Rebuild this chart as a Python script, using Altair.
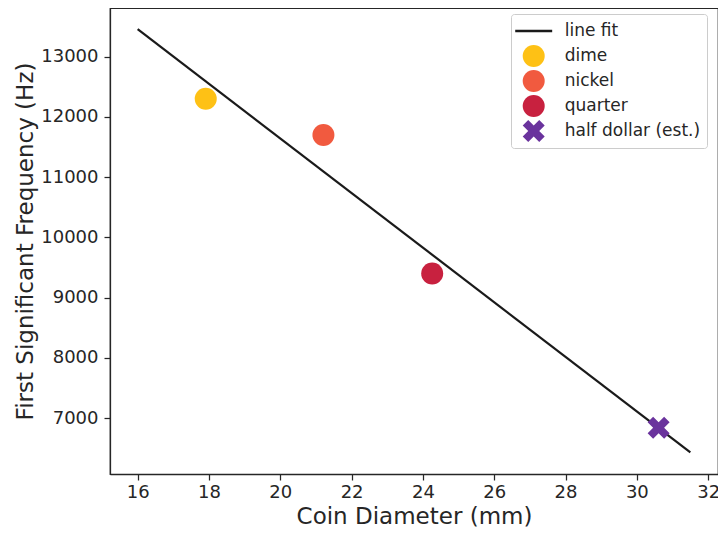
import altair as alt
import pandas as pd

# ---- data ----
legend_labels = ["line fit", "dime", "nickel", "quarter", "half dollar (est.)"]
legend_colors = ["#1a1a1a", "#fec115", "#f15a3f", "#c8213f", "#6a339d"]

coin_names = ["dime", "nickel", "quarter", "half dollar (est.)"]
coin_diameter = [17.91, 21.21, 24.26, 30.61]
coin_freq = [12300, 11700, 9400, 6840]

fit_x = [16.0, 31.5]
fit_y = [13456, 6430]

x_ticks = [16, 18, 20, 22, 24, 26, 28, 30, 32]
y_ticks = [7000, 8000, 9000, 10000, 11000, 12000, 13000]

# ---- styles ----
X_PATH = "M-1,-0.5L-0.5,-1L0,-0.5L0.5,-1L1,-0.5L0.5,0L1,0.5L0.5,1L0,0.5L-0.5,1L-1,0.5L-0.5,0Z"
LINE_PATH = "M0,-1M0,1M-1.68,-0.11L1.68,-0.11L1.68,0.11L-1.68,0.11Z"
legend_shapes = [LINE_PATH, "circle", "circle", "circle", X_PATH]

FONT = "DejaVu Sans"
DARK = "#262626"
W, H = 608, 466

coins = pd.DataFrame({"coin": coin_names, "diameter": coin_diameter, "freq": coin_freq})
fit = pd.DataFrame({"diameter": fit_x, "freq": fit_y})

x_scale = alt.Scale(domain=[15.225, 32.275], nice=False, zero=False)
y_scale = alt.Scale(domain=[6072, 13808], nice=False, zero=False)

x_enc = alt.X("diameter:Q", scale=x_scale,
              axis=alt.Axis(values=x_ticks, title="Coin Diameter (mm)", format="d",
                            titleX=W / 2, titleY=49, titleBaseline="alphabetic",
                            titleAlign="center"))
y_enc = alt.Y("freq:Q", scale=y_scale,
              axis=alt.Axis(values=y_ticks, title="First Significant Frequency (Hz)", format="d",
                            titleX=-78, titleY=H / 2, titleAngle=270,
                            titleBaseline="alphabetic", titleAlign="center"))

leg = alt.Legend(
    title=None, orient="none", legendX=401, legendY=6,
    padding=6, symbolOffset=5.7, labelOffset=20, rowPadding=3,
    labelFontSize=17, labelFont=FONT, labelColor=DARK,
    fillColor="white", strokeColor="#cccccc", cornerRadius=3,
    symbolSize=484, symbolStrokeWidth=0, symbolOpacity=1,
)

line = alt.Chart(fit).mark_line(color="#1a1a1a", strokeWidth=2.2).encode(x=x_enc, y=y_enc)

points = alt.Chart(coins).mark_point(filled=True, size=484, opacity=1, strokeWidth=0).encode(
    x=x_enc,
    y=y_enc,
    color=alt.Color("coin:N", scale=alt.Scale(domain=legend_labels, range=legend_colors), legend=leg),
    shape=alt.Shape("coin:N", scale=alt.Scale(domain=legend_labels, range=legend_shapes), legend=leg),
)

chart = (
    alt.layer(line, points)
    .properties(
        width=W, height=H,
        autosize=alt.AutoSizeParams(type="none"),
        padding={"left": 102, "top": 0, "right": 0, "bottom": 53},
        background="white",
    )
    .configure_view(stroke=DARK, strokeWidth=1.25)
    .configure_axis(
        grid=False, domainColor=DARK, domainWidth=1.25,
        tickColor=DARK, tickWidth=1.25, tickSize=6,
        labelFont=FONT, labelFontSize=18, labelColor=DARK,
        titleFont=FONT, titleFontSize=23, titleFontWeight="normal", titleColor=DARK,
    )
    .configure_axisX(labelPadding=3)
    .configure_axisY(labelPadding=6)
)

chart.save("out.html", embed_options={"renderer": "svg", "actions": False})
